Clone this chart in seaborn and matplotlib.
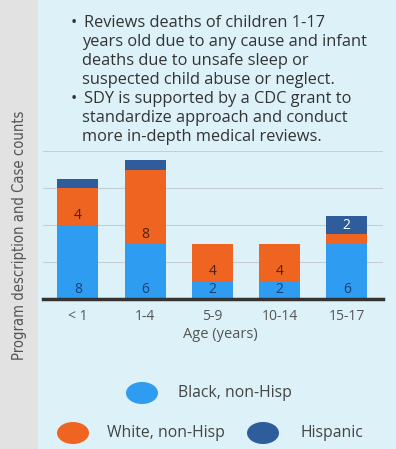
import numpy as np
import pandas as pd
import matplotlib
matplotlib.use("Agg")
import matplotlib.pyplot as plt
from matplotlib.patches import Rectangle, Ellipse
from matplotlib import font_manager
import seaborn as sns

# --- data -------------------------------------------------------------
ages = ["< 1", "1-4", "5-9", "10-14", "15-17"]
black = [8, 6, 2, 2, 6]
white = [4, 8, 4, 4, 1]
hispanic = [1, 1, 0, 0, 2]
black_labels = ["8", "6", "2", "2", "6"]
white_labels = ["4", "8", "4", "4", ""]
hispanic_labels = ["", "", "", "", "2"]
y_ticks = [4, 8, 12, 16]

notes = [
    ["Reviews deaths of children 1-17",
     "years old due to any cause and infant",
     "deaths due to unsafe sleep or",
     "suspected child abuse or neglect."],
    ["SDY is supported by a CDC grant to",
     "standardize approach and conduct",
     "more in-depth medical reviews."],
]
side_title = "Program description and Case counts"
x_title = "Age (years)"
legend_names = ["Black, non-Hisp", "White, non-Hisp", "Hispanic"]

# --- style ------------------------------------------------------------
C_BLACK = "#2e9cf0"
C_WHITE = "#f06421"
C_HISP = "#2f5d9c"
BG = "#dcf2f8"
STRIP = "#e2e2e2"
TXT = "#333333"

sns.set_theme(style="white")
plt.rcParams["font.family"] = ["Open Sans", "DejaVu Sans"]

# pick a narrow face for the side title if one is installed
narrow_prop = None
for f in font_manager.fontManager.ttflist:
    st = str(f.stretch).lower()
    if ("condensed" in st or "narrow" in f.name.lower()
            or (isinstance(f.stretch, int) and f.stretch < 500)) and f.style == "normal":
        narrow_prop = font_manager.FontProperties(fname=f.fname)
        if f.weight in (400, "normal", "regular"):
            break

W, H = 396, 449
fig = plt.figure(figsize=(W / 100, H / 100), dpi=100)
fig.patch.set_facecolor(BG)

# overlay in pixel units for the side strip, notes and legend
ov = fig.add_axes([0, 0, 1, 1], zorder=0)
ov.set_xlim(0, W)
ov.set_ylim(H, 0)
ov.axis("off")
ov.add_patch(Rectangle((0, 0), 38, H, color=STRIP, lw=0))

side_kw = dict(rotation=90, ha="center", va="center", color="#555555")
if narrow_prop is not None:
    narrow_prop.set_size(14)
    side = ov.text(20, 235, side_title, fontproperties=narrow_prop, **side_kw)
else:
    side = ov.text(20, 235, side_title, fontsize=14, family="DejaVu Sans",
                   fontstretch="condensed", **side_kw)
# fit the side title to its strip length
fig.canvas.draw()
ext = side.get_window_extent()
side.set_fontsize(side.get_fontsize() * 250.0 / ext.height)

y = 23
for block in notes:
    for i, line in enumerate(block):
        if i == 0:
            ov.text(71, y, "\u2022", ha="left", va="center", fontsize=12, color=TXT)
            ov.text(84, y, line, ha="left", va="center", fontsize=11.8, color=TXT)
        else:
            ov.text(82, y, line, ha="left", va="center", fontsize=11.8, color=TXT)
        y += 19

# legend
leg = [(142, 393, C_BLACK, 178, legend_names[0]),
       (73, 433, C_WHITE, 107, legend_names[1]),
       (263, 433, C_HISP, 300, legend_names[2])]
for cx, cy, col, tx, name in leg:
    ov.add_patch(Ellipse((cx, cy), 32, 22, color=col, lw=0))
    ov.text(tx, cy, name, ha="left", va="center", fontsize=11.3, color="#444444")

ov.text(220, 335, x_title, ha="center", va="center", fontsize=10.5, color="#555555")

# --- chart ------------------------------------------------------------
ax = fig.add_axes([43 / W, (H - 299) / H, 340 / W, 148 / H], zorder=2)
ax.set_facecolor("none")

df = pd.DataFrame({"age": ages, "black": black, "white": white, "hisp": hispanic})
df["bw"] = df["black"] + df["white"]
df["total"] = df["bw"] + df["hisp"]

for col, color in [("total", C_HISP), ("bw", C_WHITE), ("black", C_BLACK)]:
    sns.barplot(data=df, x="age", y=col, color=color, saturation=1,
                width=0.61, linewidth=0, ax=ax, zorder=3)

ax.set_xlim(-0.52, 4.54)
ax.set_ylim(0, 16)
ax.set_yticks(y_ticks)
ax.yaxis.grid(True, color="#c5cfd3", lw=0.8)
ax.set_axisbelow(True)
ax.tick_params(axis="y", left=False, labelleft=False)
ax.tick_params(axis="x", bottom=False, labelsize=10, labelcolor="#555555", pad=1)
ax.set_xlabel("")
ax.set_ylabel("")
for s in ["top", "left", "right"]:
    ax.spines[s].set_visible(False)
ax.spines["bottom"].set_color("#333333")
ax.spines["bottom"].set_linewidth(2.5)
ax.spines["bottom"].set_zorder(5)

# value labels sit just above the base of each segment
for i in range(len(ages)):
    for base, lab, col in [(0, black_labels[i], "#1b3d78"),
                           (black[i], white_labels[i], "#4a2410"),
                           (black[i] + white[i], hispanic_labels[i], "white")]:
        if lab:
            ax.annotate(lab, xy=(i, base), xytext=(0, 6.5), textcoords="offset points",
                        ha="center", va="center", fontsize=10, color=col, zorder=6)

fig.savefig("out.png", dpi=100, facecolor=fig.get_facecolor())
